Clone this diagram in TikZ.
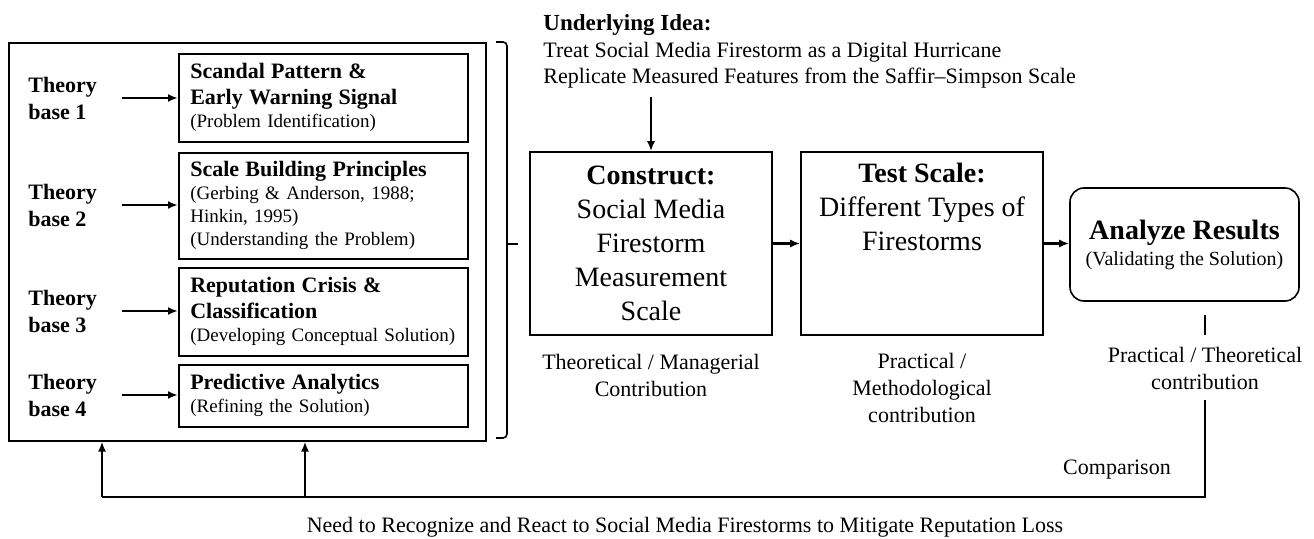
\documentclass[tikz,border=0pt]{standalone}
\usepackage{fontspec}
\setmainfont{Liberation Serif}
\usetikzlibrary{arrows.meta,positioning}

\begin{document}
\begin{tikzpicture}[x=0.5pt,y=-0.5pt,
  tbase/.style={font=\fontsize{11}{13.5}\selectfont\bfseries,align=left,
                anchor=west,inner sep=0pt},
  sbox/.style={draw,line width=0.8pt,text width=133pt,inner xsep=5.75pt,
               inner ysep=0pt,align=left,anchor=north west,
               font=\fontsize{9.5}{11.5}\selectfont,minimum height=#1},
  bbox/.style={draw,line width=0.8pt,minimum width=121pt,minimum height=91.5pt,
               inner sep=0pt},
  btxt/.style={font=\fontsize{14}{17}\selectfont,align=center,inner sep=0pt},
  note/.style={font=\fontsize{11}{13.5}\selectfont,align=center,inner sep=0pt},
  arr/.style={-{Latex[length=5pt,width=4pt]},line width=1.3pt},
  fb/.style={line width=1pt},
]
\useasboundingbox (0,0) rectangle (1314,539);
\def\ttl#1{{\fontsize{11}{13}\selectfont\bfseries #1}}
% left frame with theory bases
\node[draw,line width=0.8pt,anchor=north west,minimum width=238.5pt,
      minimum height=199pt,inner sep=0pt] (frame) at (8,42) {};
\node[sbox=44pt] (b1) at (178,53)
  {\ttl{Scandal Pattern \&}\\[1.5pt]\ttl{Early Warning Signal}\\(Problem Identification)};
\node[sbox=53pt] (b2) at (178,152)
  {\ttl{Scale Building Principles}\\(Gerbing \& Anderson, 1988;\\Hinkin, 1995)\\(Understanding the Problem)};
\node[sbox=44pt] (b3) at (178,267)
  {\ttl{Reputation Crisis \&}\\[1.5pt]\ttl{Classification}\\(Developing Conceptual Solution)};
\node[sbox=31pt] (b4) at (178,364)
  {\ttl{Predictive Analytics}\\(Refining the Solution)};
\node[tbase] (t1) at (28,98)  {Theory\\base 1};
\node[tbase] (t2) at (28,205) {Theory\\base 2};
\node[tbase] (t3) at (28,311) {Theory\\base 3};
\node[tbase] (t4) at (28,395) {Theory\\base 4};
\foreach \i in {1,...,4}
  \draw[arr] ([xshift=12.5pt]t\i.east) -- (t\i.east -| b\i.west);
% bracket
\draw[line width=0.8pt,rounded corners=2pt] (496,42) -- (507,42) -- (507,438) -- (496,438);
\draw[line width=0.8pt] (507,244) -- (518,244);
% idea
\node[font=\fontsize{11}{13.3}\selectfont,align=left,anchor=west,inner sep=0pt] (idea) at (543,51.5)
  {{\fontsize{11.5}{13.3}\selectfont\bfseries Underlying Idea:}\\
   Treat Social Media Firestorm as a Digital Hurricane\\
   Replicate Measured Features from the Saffir--Simpson Scale};
% main chain
\node[bbox] (con) at (651,243.5) {};
\node[btxt] (contxt) at (con.center)
  {\textbf{Construct:}\\Social Media\\Firestorm\\Measurement\\Scale};
\node[bbox] (test) at (922,243.5) {};
\node[btxt,anchor=north] (testtxt) at ([yshift=-5.5pt]test.north)
  {\textbf{Test Scale:}\\Different Types of\\Firestorms};
\node[draw,line width=0.8pt,rounded corners=7pt,minimum width=114.5pt,
      minimum height=56.5pt,align=center,inner sep=0pt] (ana) at (1184.5,244.5)
  {{\fontsize{14}{14}\selectfont\bfseries Analyze Results}\\[1pt]
   {\fontsize{10}{12}\selectfont (Validating the Solution)}};
\coordinate (ideaend) at (651,97);
\draw[arr,line width=1pt] (ideaend) -- (con.north);
\draw[arr] (con.east) -- (test.west);
\draw[arr] (test.east) -- (test.east -| ana.west);
% contributions
\node[note] (c1) at (651,375) {Theoretical / Managerial\\Contribution};
\node[note] (c2) at (922,388) {Practical /\\Methodological\\contribution};
\node[note] (c3) at (1205,368.5) {Practical / Theoretical\\contribution};
\node[note] (comp) at (1117,470) {Comparison};
\node[note] (need) at (685,527)
  {Need to Recognize and React to Social Media Firestorms to Mitigate Reputation Loss};
% feedback loop
\coordinate (tk1) at (1205,315);
\coordinate (tk2) at (1205,335);
\coordinate (ctop) at (1205,400);
\coordinate (cnr) at (1205,497);
\coordinate (fb1) at (102,497);
\coordinate (fb2) at (305,497);
\draw[fb] (tk1) -- (tk2);
\draw[fb] (ctop) -- (cnr) -- (fb1);
\draw[fb,arr,line width=1pt] (fb1) -- (fb1 |- frame.south);
\draw[fb,arr,line width=1pt] (fb2) -- (fb2 |- frame.south);
\end{tikzpicture}
\end{document}
